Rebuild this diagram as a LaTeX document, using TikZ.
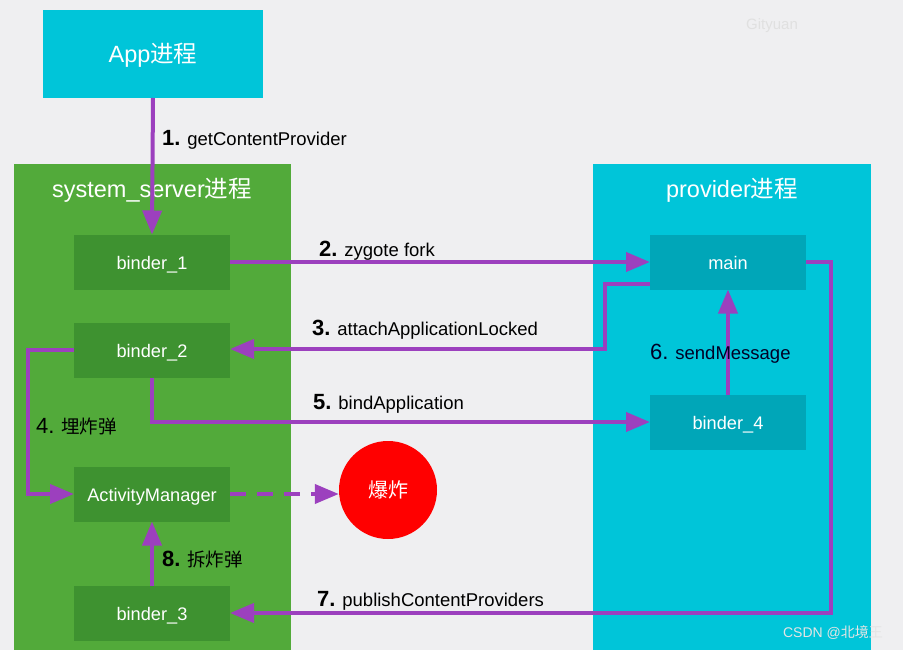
\documentclass[tikz,border=0pt]{standalone}
\usepackage{fontspec}
\setmainfont{Liberation Sans}
\newfontfamily\cjk{Noto Sans CJK SC}
\usetikzlibrary{arrows.meta}
\definecolor{bgc}{HTML}{EFEFF1}
\definecolor{cyanc}{HTML}{00C5D9}
\definecolor{greenc}{HTML}{52AA3A}
\definecolor{dgreen}{HTML}{3E9230}
\definecolor{dcyan}{HTML}{00A6B8}
\definecolor{purp}{HTML}{9C40BE}
\definecolor{redc}{HTML}{FF0000}
\tikzset{
  inner/.style={fill=#1, minimum width=156pt, minimum height=55pt, inner sep=0pt, outer sep=0pt,
    text=white, text height=15pt, text depth=0pt, font=\fontsize{18.2}{20}\selectfont},
  title/.style={text=white, font=\fontsize{23.5}{26}\selectfont},
  flow/.style={draw=purp, line width=4pt, -{Triangle[length=24pt,width=19pt]}},
  lbl/.style={anchor=west, inner sep=0pt, text=black, font=\fontsize{18.5}{20}\selectfont},
}
\newcommand{\num}[1]{{\fontsize{22}{24}\selectfont\bfseries #1}}
\newcommand{\numr}[1]{{\fontsize{22}{24}\selectfont #1}}
\begin{document}
\begin{tikzpicture}[x=1pt,y=-1pt]
\useasboundingbox (0,0) rectangle (903,650);
\fill[bgc] (0,0) rectangle (903,650);
% big process boxes
\fill[cyanc] (43,10) rectangle (263,98);
\node[title] (app) at (153,55) {App{\cjk 进程}};
\coordinate (appb) at (153,98);
\fill[greenc] (14,164) rectangle (291,650);
\node[title] (sst) at (152,190) {system\_server{\cjk 进程}};
\fill[cyanc] (593,164) rectangle (871,650);
\node[title] (pvt) at (732,190) {provider{\cjk 进程}};
% inner nodes
\node[inner=dgreen] (b1) at (152,262) {binder\_1};
\node[inner=dgreen] (b2) at (152,350) {binder\_2};
\node[inner=dgreen] (am) at (152,494) {ActivityManager};
\node[inner=dgreen] (b3) at (152,613) {binder\_3};
\node[inner=dcyan] (mn) at (728,262) {main};
\node[inner=dcyan] (b4) at (728,422) {binder\_4};
\node[circle, fill=redc, minimum size=98pt, inner sep=0pt, text=white,
  font=\cjk\fontsize{20}{22}\selectfont] (boom) at (388,490) {爆炸};
% connectors
\draw[flow] (appb) -- (b1.north);
\draw[flow] (b1.east) -- (mn.west);
\coordinate (m3) at (650,284);
\draw[flow] (m3) -| (605,349) -- (b2.east |- 0,349);
\draw[flow] (b2.west) -| (28,494) -- (am.west);
\draw[flow] (b2.south) |- (b4.west);
\draw[flow] (b4.north) -- (mn.south);
\draw[flow] (mn.east) -| (831,613) -- (b3.east);
\draw[flow] (b3.north) -- (am.south);
\draw[flow, dash pattern=on 16pt off 11pt] (am.east) -- (am.east -| boom.west);
% labels
\node[lbl] (l1) at (162,140) {\num{1.} getContentProvider};
\node[lbl] (l2) at (319,251) {\num{2.} zygote fork};
\node[lbl] (l3) at (312,330) {\num{3.} attachApplicationLocked};
\node[lbl] (l4) at (36,426) {\numr{4.} {\cjk 埋炸弹}};
\node[lbl] (l5) at (313,404) {\num{5.} bindApplication};
\node[lbl, text=black!85!blue] (l6) at (650,354) {\numr{6.} sendMessage};
\node[lbl] (l7) at (317,601) {\num{7.} publishContentProviders};
\node[lbl] (l8) at (162,559) {\num{8.} {\cjk 拆炸弹}};
% watermarks
\node[text=black!12, font=\fontsize{15}{17}\selectfont] (wm1) at (772,26) {Gityuan};
\node[text=white!90!black, font=\fontsize{14}{16}\selectfont] (wm2) at (833,633) {CSDN @{\cjk 北境王}};
\end{tikzpicture}
\end{document}
